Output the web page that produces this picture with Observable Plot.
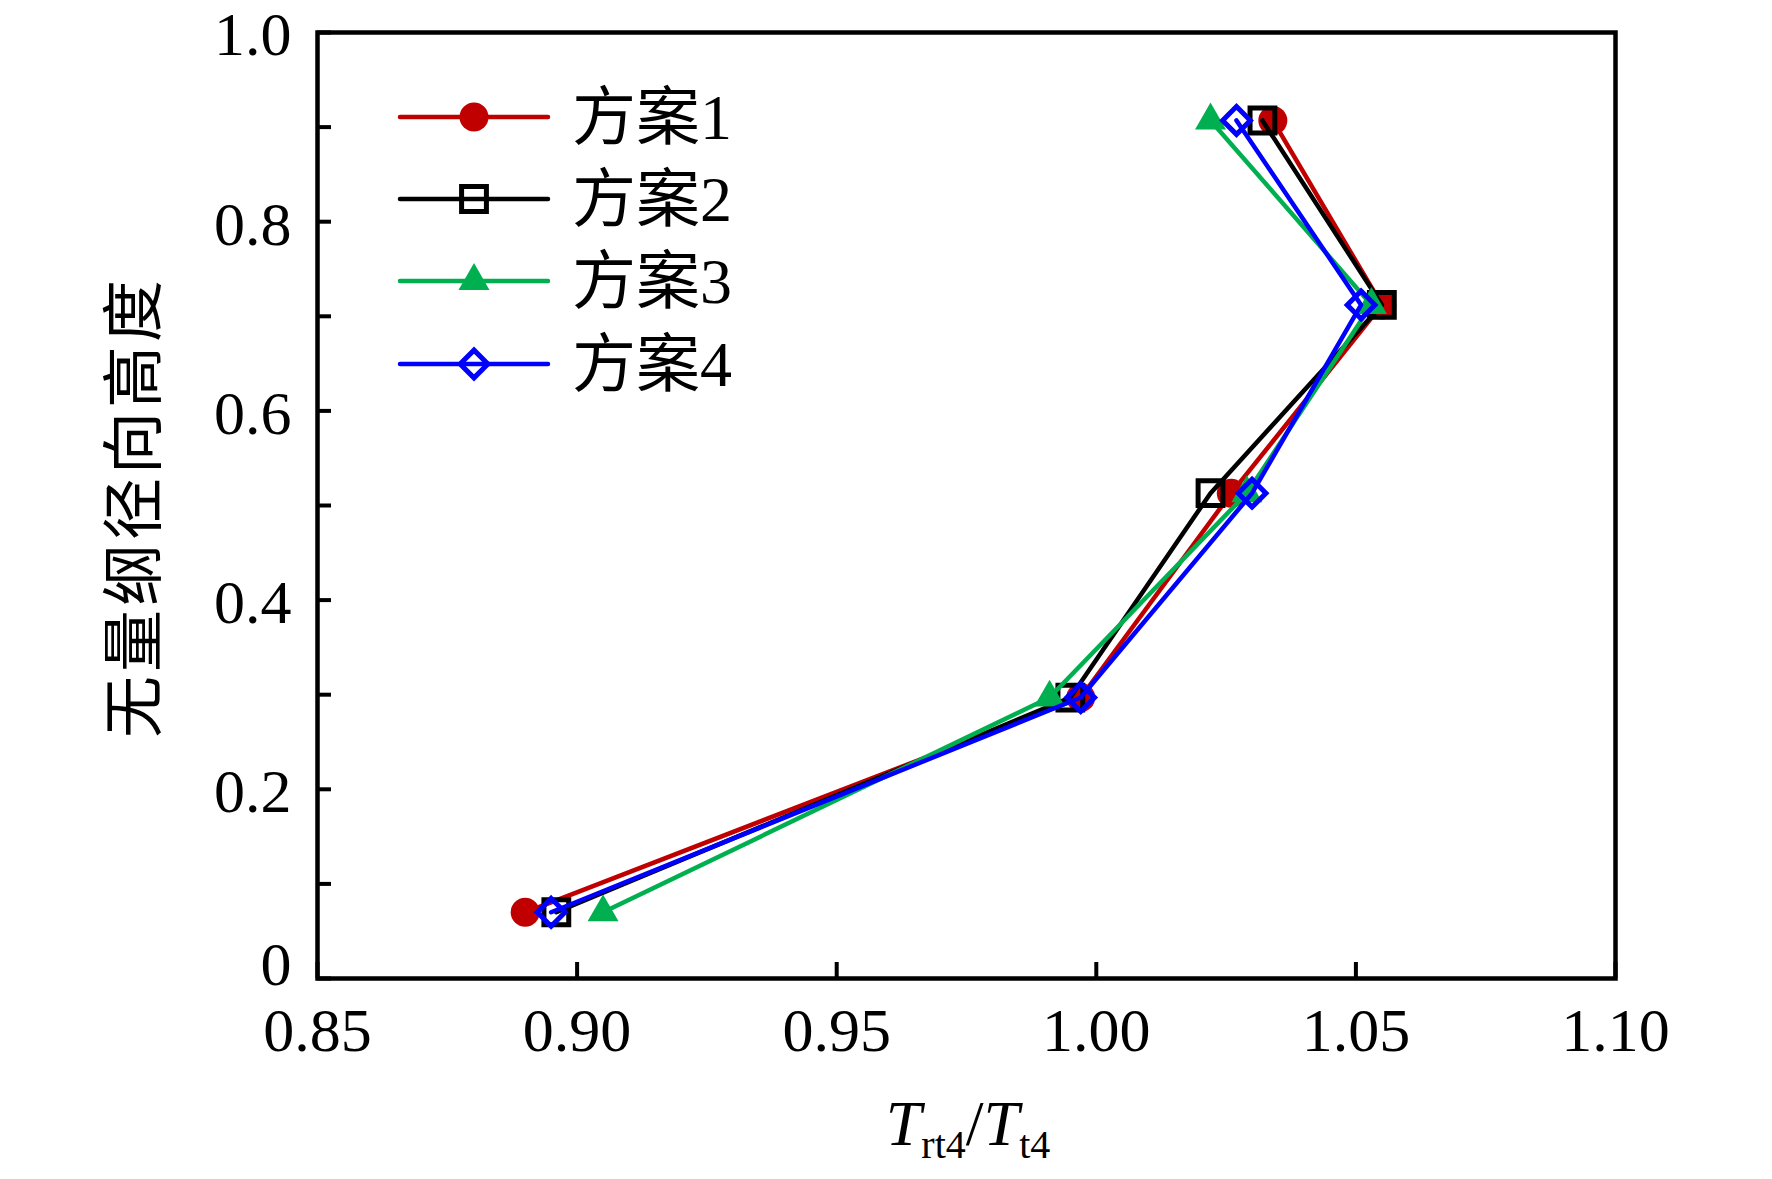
<!DOCTYPE html>
<html><head><meta charset="utf-8">
<script src="https://cdn.jsdelivr.net/npm/d3@7"></script>
<script src="https://cdn.jsdelivr.net/npm/@observablehq/plot@0.6"></script>
<style>body{margin:0;background:#fff;} #chart svg{display:block;}</style>
</head><body><div id="chart"></div>
<script>
// ---- data ----
const radialHeight = [0.070, 0.297, 0.513, 0.712, 0.907];
const scheme1 = [0.890, 0.997, 1.026, 1.055, 1.034];
const scheme2 = [0.896, 0.995, 1.022, 1.055, 1.032];
const scheme3 = [0.905, 0.991, 1.029, 1.053, 1.022];
const scheme4 = [0.895, 0.997, 1.030, 1.051, 1.027];
const seriesNames = ["方案1", "方案2", "方案3", "方案4"];
const xTicks = [0.85, 0.90, 0.95, 1.00, 1.05, 1.10];
const yTicks = [0.2, 0.4, 0.6, 0.8, 1.0];
const yZeroTick = [0];
const yMinorTicks = [0, 0.1, 0.2, 0.3, 0.4, 0.5, 0.6, 0.7, 0.8, 0.9, 1.0];
const xTitleMain = "T";
const xTitleSub1 = "rt4";
const xTitleSub2 = "t4";
const yTitle = "无量纲径向高度";

// ---- styles ----
const seriesValues = [scheme1, scheme2, scheme3, scheme4];
const styles = [
  {color: "#C00000", symbol: "circle", r: 14.5, fill: "#C00000", stroke: "none", sw: 0},
  {color: "#000000", symbol: "square", r: 14, fill: "none", stroke: "#000000", sw: 5},
  {color: "#00B050", symbol: "triangle", r: 11.5, fill: "#00B050", stroke: "none", sw: 0},
  {color: "#0000FF", symbol: "diamond2", r: 12.5, fill: "none", stroke: "#0000FF", sw: 5}
];
const series = seriesNames.map((name, i) => ({
  name, style: styles[i],
  rows: radialHeight.map((h, j) => ({series: name, x: seriesValues[i][j], y: h}))
}));

const W = 1772, H = 1179;
const M = {left: 317, right: 157, top: 32, bottom: 201};
const serif = "'Liberation Serif', 'Times New Roman', 'Noto Sans CJK SC', serif";
const lineW = 4.5;

const marks = [
  Plot.axisX({ticks: xTicks, tickSize: 0, tickPadding: 28, tickFormat: d => d.toFixed(2), label: null, fontSize: 62}),
  Plot.axisX({ticks: xTicks, tickSize: -16, strokeWidth: 4, tickFormat: () => "", label: null}),
  Plot.axisY({ticks: yTicks, tickSize: 0, tickPadding: 26, dy: 3, tickFormat: d => d.toFixed(1), label: null, fontSize: 62}),
  Plot.axisY({ticks: yZeroTick, tickSize: 0, tickPadding: 26, dy: -13, tickFormat: () => "0", label: null, fontSize: 62}),
  Plot.axisY({ticks: yMinorTicks, tickSize: -14, strokeWidth: 4, tickFormat: () => "", label: null})
];
for (const s of series) {
  marks.push(Plot.line(s.rows, {x: "x", y: "y", stroke: s.style.color, strokeWidth: lineW, strokeLinejoin: "round", strokeLinecap: "round"}));
  marks.push(Plot.dot(s.rows, {x: "x", y: "y", symbol: s.style.symbol, r: s.style.r, fill: s.style.fill, stroke: s.style.stroke, strokeWidth: s.style.sw}));
}
marks.push(Plot.frame({stroke: "#000", strokeWidth: 4.5}));

const chart = Plot.plot({
  width: W, height: H,
  marginLeft: M.left, marginRight: M.right, marginTop: M.top, marginBottom: M.bottom,
  x: {domain: [0.85, 1.10]},
  y: {domain: [0, 1]},
  style: {fontFamily: serif, fontSize: "62px", color: "#000", background: "#fff", overflow: "visible"},
  marks
});
document.getElementById("chart").appendChild(chart);

// ---- overlay: legend and axis titles ----
const svg = d3.select(chart);
const symMap = {circle: d3.symbolCircle, square: d3.symbolSquare, triangle: d3.symbolTriangle, diamond2: d3.symbolDiamond2};
const lg = svg.append("g").attr("class", "legend");
const rowY = [117, 199, 281, 364];
series.forEach((s, i) => {
  const y = rowY[i];
  lg.append("line").attr("x1", 400).attr("x2", 548).attr("y1", y).attr("y2", y)
    .attr("stroke", s.style.color).attr("stroke-width", lineW).attr("stroke-linecap", "round");
  lg.append("path").attr("transform", `translate(474,${y})`)
    .attr("d", d3.symbol(symMap[s.style.symbol], Math.PI * s.style.r * s.style.r)())
    .attr("fill", s.style.fill).attr("stroke", s.style.stroke).attr("stroke-width", s.style.sw);
  lg.append("text").attr("x", 572).attr("y", y + 22).attr("text-anchor", "start")
    .attr("font-family", serif).attr("font-size", 64).attr("fill", "#000").text(s.name);
});

const xt = svg.append("text").attr("x", 968).attr("y", 1145).attr("text-anchor", "middle")
  .attr("font-family", serif).attr("font-size", 64).attr("fill", "#000");
xt.append("tspan").attr("font-style", "italic").text(xTitleMain);
xt.append("tspan").attr("font-size", 40).attr("dy", 13).text(xTitleSub1);
xt.append("tspan").attr("dy", -13).text("/");
xt.append("tspan").attr("font-style", "italic").text(xTitleMain);
xt.append("tspan").attr("font-size", 40).attr("dy", 13).text(xTitleSub2);

svg.append("text").attr("transform", "translate(156,507) rotate(-90)").attr("text-anchor", "middle")
  .attr("font-family", "'Noto Sans CJK SC', sans-serif").attr("font-size", 62).attr("letter-spacing", 4)
  .attr("fill", "#000").text(yTitle);
</script>
</body></html>
